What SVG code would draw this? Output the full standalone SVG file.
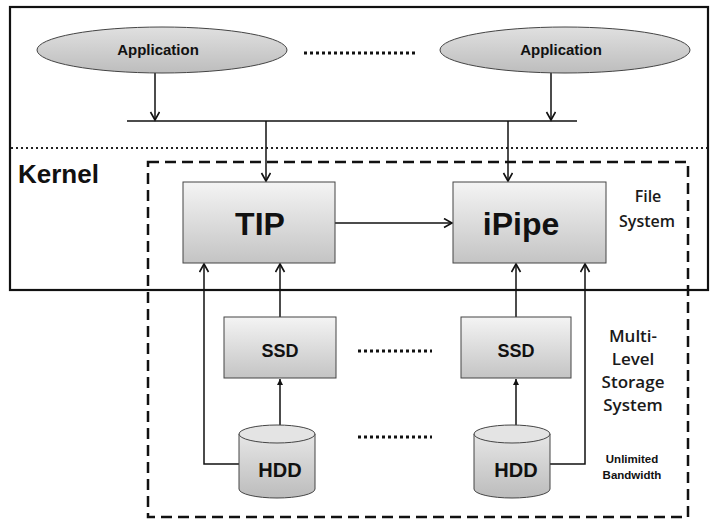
<svg xmlns="http://www.w3.org/2000/svg" width="714" height="529" viewBox="0 0 714 529">
  <defs>
    <linearGradient id="boxFill" x1="0" y1="0" x2="0" y2="1">
      <stop offset="0" stop-color="#f4f4f4"/>
      <stop offset="1" stop-color="#c4c4c4"/>
    </linearGradient>
    <linearGradient id="ovalFill" x1="0" y1="0" x2="0" y2="1">
      <stop offset="0" stop-color="#e0e0e0"/>
      <stop offset="1" stop-color="#bdbdbd"/>
    </linearGradient>
    <linearGradient id="drumFill" x1="0" y1="0" x2="0" y2="1">
      <stop offset="0" stop-color="#e6e6e6"/>
      <stop offset="1" stop-color="#bcbcbc"/>
    </linearGradient>
    <marker id="arrow" markerUnits="userSpaceOnUse" markerWidth="12" markerHeight="12" refX="9" refY="5" orient="auto">
      <path d="M1,0.5 L9,5 L1,9.5" fill="none" stroke="#111" stroke-width="1.6"/>
    </marker>
    <marker id="arrowSmall" markerUnits="userSpaceOnUse" markerWidth="10" markerHeight="10" refX="6" refY="4" orient="auto">
      <path d="M0,1 L6,4 L0,7 Z" fill="#111"/>
    </marker>
  </defs>
  <style>
    .frame { fill: none; stroke: #111; stroke-width: 2.2; }
    .sep { fill: none; stroke: #222; stroke-width: 2; stroke-dasharray: 2 3; }
    .dash { fill: none; stroke: #111; stroke-width: 2.5; stroke-dasharray: 11 6; }
    .gap { fill: none; stroke: #111; stroke-width: 3; stroke-dasharray: 3 3; }
    .box { fill: url(#boxFill); stroke: #444; stroke-width: 1; }
    .oval { fill: url(#ovalFill); stroke: #444; stroke-width: 1; }
    .drum { fill: url(#drumFill); stroke: #444; stroke-width: 1; }
    .drumTop { fill: #e4e4e4; stroke: #444; stroke-width: 1; }
    .wire { fill: none; stroke: #111; stroke-width: 1.5; }
    text { font-family: "Liberation Sans", Arial, sans-serif; fill: #111; text-anchor: middle; }
    .b { font-weight: bold; }
    .note { font-family: "Open Sans", "Liberation Sans", sans-serif; font-weight: 600; fill: #1a1a1a; }
  </style>

  <!-- user space / kernel frame -->
  <rect class="frame" x="10" y="7" width="698" height="283"/>
  <line class="sep" x1="11" y1="148" x2="707" y2="148"/>
  <text class="b" x="18" y="183" font-size="26" style="text-anchor:start">Kernel</text>

  <!-- storage stack boundary -->
  <rect class="dash" x="148" y="162" width="540" height="355"/>

  <!-- connectors -->
  <g id="connectors">
    <line class="wire" x1="155" y1="73" x2="155" y2="120" marker-end="url(#arrow)"/>
    <line class="wire" x1="551" y1="73" x2="551" y2="120" marker-end="url(#arrow)"/>
    <line class="wire" x1="127" y1="121" x2="577" y2="121"/>
    <line class="wire" x1="266" y1="121" x2="266" y2="181" marker-end="url(#arrow)"/>
    <line class="wire" x1="508" y1="121" x2="508" y2="181" marker-end="url(#arrow)"/>
    <line class="wire" x1="335" y1="223" x2="452" y2="223" marker-end="url(#arrow)"/>
    <line class="wire" x1="280" y1="317" x2="280" y2="264" marker-end="url(#arrow)"/>
    <line class="wire" x1="516" y1="317" x2="516" y2="264" marker-end="url(#arrow)"/>
    <polyline class="wire" points="239,464 204,464 204,264" marker-end="url(#arrow)"/>
    <polyline class="wire" points="550,464 585,464 585,264" marker-end="url(#arrow)"/>
    <line class="wire" x1="280" y1="425" x2="280" y2="379" marker-end="url(#arrowSmall)"/>
    <line class="wire" x1="516" y1="425" x2="516" y2="379" marker-end="url(#arrowSmall)"/>
  </g>

  <!-- ellipsis markers -->
  <line class="gap" x1="304" y1="53" x2="418" y2="53"/>
  <line class="gap" x1="358" y1="351" x2="432" y2="351"/>
  <line class="gap" x1="358" y1="437" x2="432" y2="437"/>

  <g id="app1">
    <ellipse class="oval" cx="162" cy="50" rx="125" ry="23"/>
    <text class="b" x="158" y="55" font-size="15">Application</text>
  </g>
  <g id="app2">
    <ellipse class="oval" cx="565" cy="50" rx="125" ry="23"/>
    <text class="b" x="561" y="55" font-size="15">Application</text>
  </g>

  <g id="tip">
    <rect class="box" x="183" y="182" width="152" height="81"/>
    <text class="b" x="260" y="235" font-size="32">TIP</text>
  </g>
  <g id="ipipe">
    <rect class="box" x="453" y="182" width="153" height="81"/>
    <text class="b" x="521" y="235" font-size="32">iPipe</text>
  </g>

  <g id="fs-label">
    <text class="note" x="648" y="202" font-size="16">File</text>
    <text class="note" x="647" y="227" font-size="16">System</text>
  </g>

  <g id="ssd1">
    <rect class="box" x="224" y="317" width="112" height="61"/>
    <text class="b" x="280" y="357" font-size="18">SSD</text>
  </g>
  <g id="ssd2">
    <rect class="box" x="461" y="317" width="110" height="61"/>
    <text class="b" x="516" y="357" font-size="18">SSD</text>
  </g>

  <g id="hdd1">
    <path class="drum" d="M239,434 L239,489 A38,9 0 0 0 315,489 L315,434 Z"/>
    <ellipse class="drumTop" cx="277" cy="434" rx="38" ry="9"/>
    <text class="b" x="280" y="477" font-size="20">HDD</text>
  </g>
  <g id="hdd2">
    <path class="drum" d="M474,434 L474,489 A38,9 0 0 0 550,489 L550,434 Z"/>
    <ellipse class="drumTop" cx="512" cy="434" rx="38" ry="9"/>
    <text class="b" x="516" y="477" font-size="20">HDD</text>
  </g>

  <g id="mlss-label">
    <text class="note" x="633" y="342" font-size="17">Multi-</text>
    <text class="note" x="633" y="365" font-size="17">Level</text>
    <text class="note" x="633" y="388" font-size="17">Storage</text>
    <text class="note" x="633" y="411" font-size="17">System</text>
  </g>
  <g id="bw-label">
    <text class="b" x="632" y="463" font-size="11.5">Unlimited</text>
    <text class="b" x="632" y="479" font-size="11.5">Bandwidth</text>
  </g>
</svg>
